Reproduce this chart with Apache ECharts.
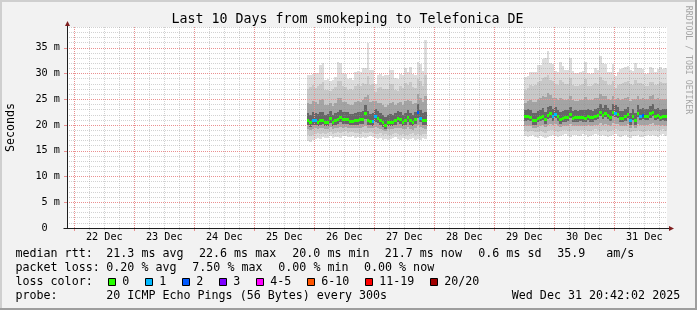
<!DOCTYPE html>
<html><head><meta charset="utf-8">
<script src="https://cdn.jsdelivr.net/npm/echarts@6/dist/echarts.min.js"></script>
<style>html,body{margin:0;padding:0;background:#f2f2f2}#c{width:697px;height:310px}</style>
</head><body><div id="c"></div>
<script>
// ---------------- DATA ----------------
const titleText = 'Last 10 Days from smokeping to Telefonica DE';
const yAxisTitle = 'Seconds';
const watermark = 'RRDTOOL / TOBI OETIKER';
const dayLabels = ['22 Dec','23 Dec','24 Dec','25 Dec','26 Dec','27 Dec','28 Dec','29 Dec','30 Dec','31 Dec'];
const yTickValues = [0,5,10,15,20,25,30,35];
const yTickLabels = ['0  ','5 m','10 m','15 m','20 m','25 m','30 m','35 m'];

// hours counted from 22 Dec 00:00; one bin = 1 hour
const segAStart = 93;   // 25 Dec 21:00
const segBStart = 180;  // 29 Dec 12:00

const medianA = [21.0,20.5,21.0,21.0,20.6,21.0,21.0,20.6,20.6,21.4,20.6,21.0,21.1,21.5,21.1,21.1,21.2,20.8,20.8,21.0,21.0,21.2,21.2,22.4,21.0,20.8,20.8,21.7,21.3,21.0,20.5,20.0,20.6,20.6,20.6,20.9,21.4,21.1,20.6,21.0,21.6,21.0,20.6,21.2,22.6,21.4,21.0,21.0];
const lossA   = [0,0,1,1,0,0,0,0,0,0, 0,0,0,0,0,0,0,0,0,0, 0,0,0,0,0,0,1,1,0,0, 0,0,0,0,0,0,0,0,0,0, 0,0,0,0,2,1,0,0];
const minA = [16.9,16.8,17.0,17.2,17.5,17.3,17.6,17.4,17.5,17.8,17.4,17.6,17.7,17.5,17.8,17.9,17.6,17.7,17.8,17.5,17.6,17.4,17.7,17.5,17.6,17.8,17.6,17.4,17.3,17.5,17.1,17.3,17.0,17.2,17.4,17.6,17.3,17.1,17.4,17.2,17.0,17.3,17.5,17.1,17.3,17.0,17.4,17.2];
const maxA = [29.8,29.8,30.0,30.1,30.1,31.7,32.0,28.7,28.9,28.6,28.8,29.3,32.2,32.0,30.1,30.0,29.0,29.1,28.8,30.3,30.5,30.4,31.1,31.0,35.9,30.6,30.7,28.0,29.8,29.9,29.6,29.8,29.7,30.6,30.7,29.1,28.9,30.0,29.8,31.1,30.4,31.3,30.0,29.8,32.3,31.8,30.5,36.6];
const lo2A = [18.0,17.9,18.1,18.3,18.4,18.2,18.5,18.3,18.4,18.7,18.3,18.5,18.6,18.4,18.7,18.8,18.5,18.6,18.7,18.4,18.5,18.3,18.6,18.5,18.5,18.7,18.5,18.3,18.2,18.4,18.1,18.2,18.0,18.1,18.3,18.5,18.2,18.1,18.3,18.1,18.0,18.2,18.4,18.1,18.3,18.0,18.3,18.2];
const hi2A = [27.0,27.4,27.8,27.2,27.5,28.0,28.3,26.8,26.9,26.6,27.0,27.3,28.5,28.6,27.6,27.4,26.9,27.0,26.8,27.6,27.9,27.5,28.2,28.0,29.5,27.8,27.9,26.5,27.2,27.3,27.0,27.1,27.0,27.9,28.0,26.9,26.7,27.5,27.2,28.1,27.7,28.4,27.4,27.2,29.0,28.6,27.6,29.8];
const lo3A = [19.2,19.0,19.3,19.4,19.3,19.4,19.5,19.2,19.3,19.6,19.2,19.4,19.5,19.6,19.5,19.6,19.5,19.4,19.4,19.4,19.5,19.4,19.6,19.8,19.5,19.5,19.4,19.6,19.5,19.3,19.1,18.9,19.2,19.2,19.3,19.4,19.5,19.4,19.2,19.3,19.6,19.3,19.1,19.4,20.0,19.6,19.4,19.3];
const hi3A = [24.2,24.0,24.6,24.4,24.1,24.8,25.0,23.8,23.9,24.3,23.7,24.2,25.2,25.3,24.5,24.4,24.0,23.9,23.8,24.4,24.6,24.5,24.9,25.4,25.8,24.4,24.6,24.7,24.3,24.2,23.9,23.6,23.8,24.3,24.4,23.9,24.2,24.4,23.8,24.6,24.8,24.7,24.0,24.3,26.0,25.2,24.5,25.6];
const lo4A = [20.1,19.7,20.1,20.1,19.8,20.1,20.2,19.8,19.8,20.4,19.8,20.1,20.2,20.5,20.2,20.2,20.3,20.0,20.0,20.1,20.1,20.3,20.3,21.2,20.1,20.0,19.9,20.6,20.4,20.1,19.7,19.3,19.8,19.8,19.8,20.0,20.5,20.2,19.8,20.1,20.6,20.1,19.8,20.3,21.4,20.5,20.1,20.1];
const hi4A = [22.4,22.0,22.5,22.4,22.1,22.5,22.6,22.0,22.1,22.8,22.0,22.4,22.6,22.9,22.5,22.5,22.6,22.2,22.2,22.4,22.5,22.6,22.7,23.8,22.7,22.2,22.4,23.1,22.7,22.4,21.9,21.6,22.0,22.1,22.0,22.3,22.8,22.5,22.0,22.4,23.0,22.4,22.0,22.6,24.0,22.9,22.4,22.6];

const medianB = [21.7,21.8,21.6,21.0,21.0,21.4,21.6,21.8,21.2,22.0,22.3,21.7,22.2,21.7,21.2,21.4,21.5,21.6,22.2,21.4,21.5,21.5,21.6,21.5,21.4,21.8,21.5,21.5,21.8,22.0,22.6,22.0,22.4,22.0,21.6,22.6,22.4,22.2,21.4,21.4,21.7,22.2,21.0,21.8,21.0,22.4,21.8,22.0,21.8,21.8,22.3,22.6,21.8,22.0,21.6,21.8,21.7];
const lossB   = [0,0,0,0,0,0,0,0,0,0, 0,1,1,0,0,0,0,0,0,0, 0,0,0,0,0,0,0,0,0,0, 0,0,0,0,0,0,1,0,0,0, 0,0,1,0,0,0,1,2,0,0, 0,0,0,0,0,0,0];
const minB = [17.8,17.6,17.9,18.0,17.7,17.5,17.8,17.6,17.4,17.7,17.9,18.1,17.8,17.6,17.9,18.0,18.2,17.9,17.7,18.0,18.1,17.8,17.9,18.2,18.0,17.7,17.8,18.1,18.3,18.0,17.8,18.1,17.9,17.6,17.8,18.0,18.2,17.9,17.7,17.8,18.0,17.6,17.5,17.8,17.9,18.1,17.7,17.6,17.9,18.0,17.8,18.1,17.9,17.7,18.0,18.2,17.9];
const maxB = [29.4,29.6,30.4,30.4,30.3,31.6,31.7,32.9,33.0,34.3,32.0,31.9,30.5,30.3,32.2,31.5,30.6,30.7,33.0,30.5,30.2,30.1,30.3,30.5,32.3,30.1,30.0,30.2,31.1,30.6,33.4,32.0,31.9,30.4,30.3,31.8,29.6,30.4,30.8,31.0,31.2,31.5,30.7,30.5,32.0,31.1,31.0,30.9,30.0,30.1,31.3,31.1,30.4,30.8,31.2,30.9,31.0];
const lo2B = [18.8,18.7,18.9,18.8,18.6,18.6,18.8,18.7,18.5,18.9,19.0,19.1,18.9,18.7,18.9,19.0,19.1,18.9,18.8,19.0,19.1,18.9,19.0,19.1,19.0,18.8,18.9,19.1,19.2,19.0,18.9,19.1,19.0,18.7,18.9,19.1,19.2,19.0,18.8,18.9,19.0,18.8,18.6,18.9,18.8,19.1,18.8,18.7,18.9,19.0,18.9,19.1,19.0,18.8,19.0,19.2,18.9];
const hi2B = [26.9,27.2,27.8,27.6,27.7,28.4,28.6,29.2,29.3,29.8,28.7,28.6,27.9,27.7,28.8,28.3,27.9,28.0,29.2,27.8,27.6,27.5,27.7,27.9,28.9,27.6,27.5,27.7,28.2,28.0,29.4,28.7,28.6,27.8,27.7,28.5,27.2,27.8,28.0,28.2,28.3,28.5,27.9,27.8,28.7,28.2,28.1,28.0,27.5,27.6,28.4,28.3,27.8,28.0,28.3,28.1,28.2];
const lo3B = [19.9,19.9,19.8,19.5,19.5,19.7,19.9,20.0,19.6,20.1,20.3,20.0,20.2,19.9,19.7,19.8,19.9,19.9,20.2,19.8,19.9,19.9,19.9,19.9,19.8,20.0,19.9,19.9,20.0,20.1,20.4,20.1,20.3,20.1,19.9,20.4,20.3,20.2,19.8,19.8,19.9,20.2,19.5,20.0,19.5,20.3,20.0,20.1,20.0,20.0,20.2,20.4,20.0,20.1,19.9,20.0,19.9];
const hi3B = [24.3,24.6,24.9,24.5,24.4,25.0,25.3,25.7,25.4,26.2,25.8,25.3,25.2,24.9,25.3,25.0,24.9,25.0,25.7,24.8,24.7,24.7,24.9,24.9,25.5,24.9,24.8,24.9,25.3,25.3,26.0,25.6,25.6,25.1,24.9,25.6,25.1,25.2,24.8,25.0,25.2,25.5,24.7,25.0,25.1,25.6,25.1,25.3,25.0,25.0,25.6,25.8,25.0,25.2,25.1,25.1,25.0];
const lo4B = [20.8,20.9,20.7,20.1,20.1,20.5,20.7,20.9,20.3,21.1,21.4,20.8,21.3,20.8,20.3,20.5,20.6,20.7,21.3,20.5,20.6,20.6,20.7,20.6,20.5,20.9,20.6,20.6,20.9,21.1,21.7,21.1,21.5,21.1,20.7,21.7,21.5,21.3,20.5,20.5,20.8,21.3,20.1,20.9,20.1,21.5,20.9,21.1,20.9,20.9,21.4,21.7,20.9,21.1,20.7,20.9,20.8];
const hi4B = [23.0,23.1,22.9,22.3,22.4,22.8,23.0,23.3,22.6,23.5,23.7,23.1,23.6,23.0,22.6,22.8,22.9,23.0,23.6,22.8,22.9,22.8,23.0,22.9,22.9,23.2,22.9,22.8,23.2,23.4,24.0,23.4,23.8,23.4,23.0,24.0,23.8,23.6,22.8,22.8,23.1,23.6,22.4,23.2,22.4,23.8,23.2,23.4,23.2,23.1,23.7,24.0,23.2,23.4,23.0,23.2,23.1];

const lossLabels = ['0','1','2','3','4-5','6-10','11-19','20/20'];
const lossColors = ['#26ff00','#00b8ff','#0059ff','#7e00ff','#ff00ff','#ff5500','#ff0000','#a10000'];

const rttLabel = 'median rtt:';
const rttStats = ['21.3 ms avg','22.6 ms max','20.0 ms min','21.7 ms now','0.6 ms sd','35.9','am/s'];
const lossLabel = 'packet loss:';
const lossStats = ['0.20 % avg','7.50 % max','0.00 % min','0.00 % now'];
const colorLabel = 'loss color:';
const probeLabel = 'probe:';
const probeText = '20 ICMP Echo Pings (56 Bytes) every 300s';
const stampText = 'Wed Dec 31 20:42:02 2025';

// ---------------- BUILD ----------------
const mono = '"DejaVu Sans Mono", monospace';
const xMin = -2.92, xMax = 237.08, yMax = 39.05;
const smokeColors = ['#dddddd','#c8c8c8','#a4a4a4','#666666'];

function bins(start, lo, hi) { return lo.map((v, i) => [start + i, v, hi[i]]); }
const smokeLayers = [
  bins(segAStart, minA, maxA).concat(bins(segBStart, minB, maxB)),
  bins(segAStart, lo2A, hi2A).concat(bins(segBStart, lo2B, hi2B)),
  bins(segAStart, lo3A, hi3A).concat(bins(segBStart, lo3B, hi3B)),
  bins(segAStart, lo4A, hi4A).concat(bins(segBStart, lo4B, hi4B))
];
const medianData = medianA.map((m, i) => [segAStart + i, m, lossA[i]])
  .concat(medianB.map((m, i) => [segBStart + i, m, lossB[i]]));

function lossClass(n) {
  if (n <= 3) return n;
  if (n <= 5) return 4;
  if (n <= 10) return 5;
  if (n <= 19) return 6;
  return 7;
}

const dayTicks = dayLabels.map((d, i) => i * 24);
const dayLabelPos = dayLabels.map((d, i) => i * 24 + 12);
const minorX = []; for (let h = 6; h < xMax; h += 6) if (h % 24) minorX.push(h);
const minorY = []; for (let v = 1; v <= 39; v++) if (v % 5) minorY.push(v);

const gridCol = 'rgba(143,143,143,0.4)';
const mgridCol = '#ea9090';

function smokeRender(color) {
  return function (params, api) {
    const t = api.value(0), lo = api.value(1), hi = api.value(2);
    const a = api.coord([t, hi]), b = api.coord([t + 1, lo]);
    const x0 = Math.round(a[0]), x1 = Math.round(b[0]);
    const y0 = Math.round(a[1]), y1 = Math.round(b[1]);
    return {type: 'rect', shape: {x: x0, y: y0, width: x1 - x0, height: y1 - y0}, style: {fill: color}};
  };
}
function medianRender(params, api) {
  const t = api.value(0), m = api.value(1), loss = api.value(2);
  const a = api.coord([t, m]), b = api.coord([t + 1, m]);
  const x0 = Math.round(a[0]), x1 = Math.round(b[0]), yc = Math.round(a[1]);
  return {type: 'rect', shape: {x: x0, y: yc - 1, width: x1 - x0, height: 3}, style: {fill: lossColors[lossClass(loss)]}};
}

function gridAxis(values, color, z, tickLen) {
  return {type: 'value', min: xMin, max: xMax, position: 'bottom', z: z,
    axisLine: {show: false, onZero: false},
    axisTick: {show: tickLen > 0, customValues: values, length: tickLen, lineStyle: {color: color}},
    axisLabel: {show: false, customValues: values},
    splitLine: {show: true, lineStyle: {color: color, type: [1, 1], width: 1}}};
}

const chart = echarts.init(document.getElementById('c'), null, {renderer: 'canvas'});
chart.setOption({
  backgroundColor: '#f2f2f2',
  animation: false,
  grid: {left: 67, top: 27, width: 600, height: 201, show: true, backgroundColor: '#ffffff', borderWidth: 0, containLabel: false, outerBoundsMode: 'none'},
  xAxis: [
    {type: 'value', min: xMin, max: xMax, position: 'bottom', z: 4,
     axisLine: {show: true, onZero: false, lineStyle: {color: '#1f1f1f', width: 1}},
     axisTick: {show: false, customValues: dayLabelPos},
     axisLabel: {show: true, customValues: dayLabelPos, formatter: v => dayLabels[Math.floor(v / 24)] || '',
                 margin: 4.5, color: '#000', fontFamily: mono, fontSize: 10.2},
     splitLine: {show: false}},
    gridAxis(dayTicks, mgridCol, 3, 3),
    gridAxis(minorX, gridCol, 2, 2)
  ],
  yAxis: [
    {type: 'value', min: 0, max: yMax, position: 'left', z: 3,
     axisLine: {show: true, onZero: false, lineStyle: {color: '#1f1f1f', width: 1}},
     axisTick: {show: true, customValues: yTickValues, length: 3, lineStyle: {color: mgridCol}},
     axisLabel: {show: true, customValues: yTickValues, formatter: v => yTickLabels[yTickValues.indexOf(v)] || '',
                 margin: 7, color: '#000', fontFamily: mono, fontSize: 10.2},
     splitLine: {show: true, lineStyle: {color: mgridCol, type: [1, 1], width: 1}}},
    {type: 'value', min: 0, max: yMax, position: 'left', z: 2,
     axisLine: {show: false, onZero: false},
     axisTick: {show: false, customValues: minorY},
     axisLabel: {show: false, customValues: minorY},
     splitLine: {show: true, lineStyle: {color: gridCol, type: [1, 1], width: 1}}}
  ],
  series: smokeLayers.map((data, i) => ({
    type: 'custom', coordinateSystem: 'cartesian2d', xAxisIndex: 0, yAxisIndex: 0,
    z: 1, silent: true, clip: true, renderItem: smokeRender(smokeColors[i]),
    encode: {x: 0, y: [1, 2]}, data: data
  })).concat([{
    type: 'custom', coordinateSystem: 'cartesian2d', xAxisIndex: 0, yAxisIndex: 0,
    z: 5, silent: true, clip: true, renderItem: medianRender,
    encode: {x: 0, y: 1}, data: medianData
  }])
});

// ---------------- DECORATION / TEXT ----------------
const o = chart.convertToPixel({xAxisIndex: 0, yAxisIndex: 0}, [xMin, 0]);
const tp = chart.convertToPixel({xAxisIndex: 0, yAxisIndex: 0}, [xMin, yMax]);
const rt = chart.convertToPixel({xAxisIndex: 0, yAxisIndex: 0}, [xMax, 0]);
const ax = Math.round(o[0]) + 0.5, ay = Math.round(o[1]) + 0.5;
const topY = Math.round(tp[1]), rightX = Math.round(rt[0]);

function T(x, y, s, size, extra) {
  const e = {type: 'text', x: x, y: y, silent: true, z: 100,
    style: {text: s, font: size + 'px ' + mono, fill: '#000', align: 'left', verticalAlign: 'middle'}};
  if (extra) { Object.assign(e.style, extra.style || {}); if (extra.rotation) e.rotation = extra.rotation; }
  return e;
}
const g = [];
g.push({type: 'rect', shape: {x: 0, y: 0, width: 697, height: 2}, style: {fill: '#cfcfcf'}, silent: true, z: 99});
g.push({type: 'rect', shape: {x: 0, y: 0, width: 2, height: 310}, style: {fill: '#cfcfcf'}, silent: true, z: 99});
g.push({type: 'rect', shape: {x: 0, y: 308, width: 697, height: 2}, style: {fill: '#9e9e9e'}, silent: true, z: 99});
g.push({type: 'rect', shape: {x: 695, y: 0, width: 2, height: 310}, style: {fill: '#9e9e9e'}, silent: true, z: 99});
g.push({type: 'line', shape: {x1: ax, y1: topY, x2: ax, y2: topY - 3}, style: {stroke: '#1f1f1f', lineWidth: 1}, silent: true, z: 99});
g.push({type: 'line', shape: {x1: rightX, y1: ay, x2: rightX + 3, y2: ay}, style: {stroke: '#1f1f1f', lineWidth: 1}, silent: true, z: 99});
g.push({type: 'line', shape: {x1: ax - 4, y1: ay, x2: ax, y2: ay}, style: {stroke: '#1f1f1f', lineWidth: 1}, silent: true, z: 99});
g.push({type: 'polygon', shape: {points: [[ax - 2.5, topY - 1], [ax + 2.5, topY - 1], [ax, topY - 6]]}, style: {fill: '#7f1f1f'}, silent: true, z: 99});
g.push({type: 'polygon', shape: {points: [[rightX + 2, ay - 2.5], [rightX + 2, ay + 2.5], [rightX + 7, ay]]}, style: {fill: '#7f1f1f'}, silent: true, z: 99});
g.push(T(347.5, 19.4, titleText, 13.3, {style: {align: 'center'}}));
g.push(T(11, 127.5, yAxisTitle, 11.67, {rotation: Math.PI / 2, style: {align: 'center'}}));
g.push(T(687.8, 60, watermark, 8.2, {rotation: -Math.PI / 2, style: {align: 'center', fill: '#a5a5a5'}}));
const rowY = [254.3, 268.2, 282.2, 296.1];
g.push(T(15.5, rowY[0], rttLabel, 11.67));
[106.3, 199, 292.3, 384.7, 478.3, 557.3, 606.3].forEach((x, i) => g.push(T(x, rowY[0], rttStats[i], 11.67)));
g.push(T(15.5, rowY[1], lossLabel, 11.67));
[106.3, 192.3, 278.3, 364].forEach((x, i) => g.push(T(x, rowY[1], lossStats[i], 11.67)));
g.push(T(15.5, rowY[2], colorLabel, 11.67));
[108, 145, 182, 219, 256, 307, 365, 430].forEach((x, i) => {
  g.push({type: 'rect', shape: {x: x + 0.5, y: 278.5, width: 7, height: 7}, style: {fill: lossColors[i], stroke: '#000', lineWidth: 1}, silent: true, z: 100});
  g.push(T(x + 14.3, rowY[2], lossLabels[i], 11.67));
});
g.push(T(15.5, rowY[3], probeLabel, 11.67));
g.push(T(106.3, rowY[3], probeText, 11.67));
g.push(T(511.8, rowY[3], stampText, 11.67));
chart.setOption({graphic: {elements: g}});
</script>
</body></html>
